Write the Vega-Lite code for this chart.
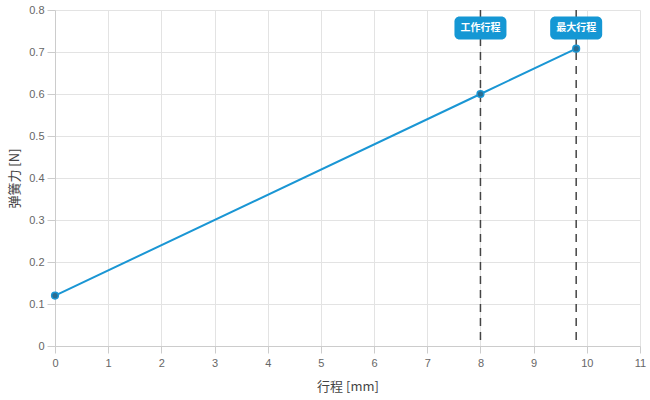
{
  "$schema": "https://vega.github.io/schema/vega-lite/v6.json",
  "autosize": "none",
  "width": 585,
  "height": 336,
  "padding": {"left": 55, "top": 10, "right": 10, "bottom": 54},
  "background": "white",
  "config": {
    "view": {"stroke": null},
    "axis": {
      "gridColor": "#e3e3e3",
      "domainColor": "#cccccc",
      "tickColor": "#cccccc",
      "labelColor": "#666666",
      "labelFont": "Liberation Sans",
      "labelFontSize": 11,
      "labelFlush": false,
      "labelOverlap": false,
      "titleFont": "Noto Sans CJK SC",
      "titleFontSize": 13,
      "titleFontWeight": "normal",
      "titleColor": "#444444"
    }
  },
  "datasets": {
    "curve": [
      {"stroke": 0, "force": 0.12},
      {"stroke": 8, "force": 0.6},
      {"stroke": 9.8, "force": 0.708}
    ],
    "marks": [
      {"stroke": 8, "label": "工作行程"},
      {"stroke": 9.8, "label": "最大行程"}
    ]
  },
  "encoding": {
    "x": {
      "field": "stroke", "type": "quantitative",
      "scale": {"domain": [0, 11], "nice": false, "zero": true},
      "axis": {"title": "行程 [mm]", "values": [0,1,2,3,4,5,6,7,8,9,10,11], "format": "d", "tickSize": 7, "labelPadding": 4, "titlePadding": 12}
    }
  },
  "layer": [
    {
      "data": {"name": "curve"},
      "mark": {"type": "line", "color": "#1a96d4", "strokeWidth": 2},
      "encoding": {
        "y": {
          "field": "force", "type": "quantitative",
          "scale": {"domain": [0, 0.8], "nice": false},
          "axis": {"title": "弹簧力 [N]", "values": [0,0.1,0.2,0.3,0.4,0.5,0.6,0.7,0.8], "format": ".1~f", "tickSize": 8, "labelPadding": 3, "titlePadding": 7}
        }
      }
    },
    {
      "data": {"name": "marks"},
      "mark": {"type": "rule", "color": "#444444", "strokeWidth": 1.5, "strokeDash": [8, 6]},
      "encoding": {}
    },
    {
      "data": {"name": "curve"},
      "mark": {"type": "point", "filled": true, "size": 45, "color": "#2a6d91", "stroke": "#1a96d4", "strokeWidth": 1.5, "opacity": 1},
      "encoding": {"y": {"field": "force", "type": "quantitative"}}
    },
    {
      "data": {"name": "marks"},
      "mark": {"type": "rect", "width": 52, "height": 23, "cornerRadius": 5, "color": "#1597d4"},
      "encoding": {"y": {"datum": 0.757, "type": "quantitative"}}
    },
    {
      "data": {"name": "marks"},
      "mark": {"type": "text", "color": "white", "font": "Noto Sans CJK SC", "fontSize": 10, "fontWeight": "bold", "align": "center", "baseline": "middle"},
      "encoding": {"y": {"datum": 0.757, "type": "quantitative"}, "text": {"field": "label"}}
    }
  ]
}
